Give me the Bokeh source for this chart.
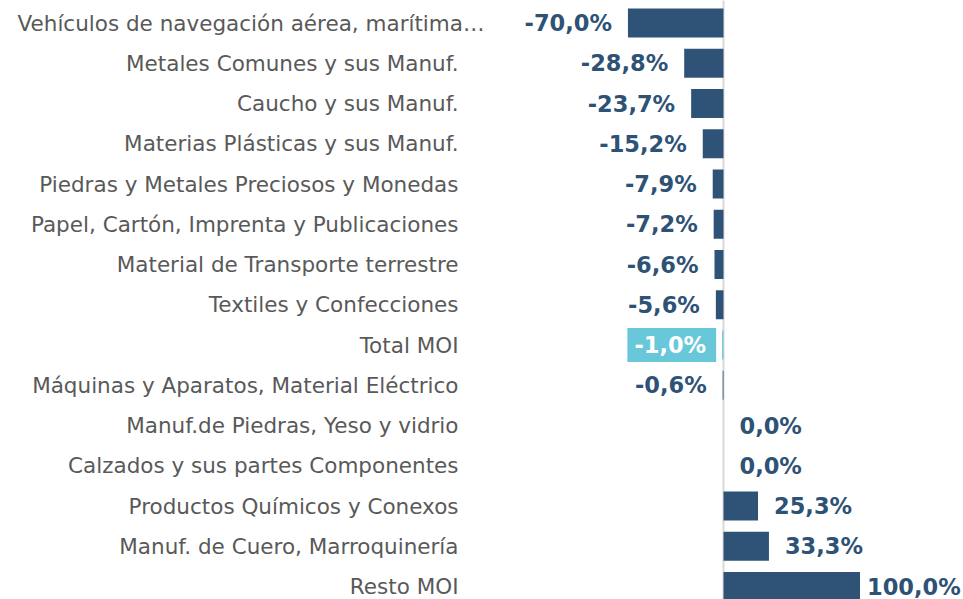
import numpy as np
from bokeh.plotting import figure
from bokeh.models import ColumnDataSource, Range1d, Span
from bokeh.core.properties import value
from bokeh.embed import file_html
from bokeh.resources import INLINE

categories = [
    "Vehículos de navegación aérea, marítima…",
    "Metales Comunes y sus Manuf.",
    "Caucho y sus Manuf.",
    "Materias Plásticas y sus Manuf.",
    "Piedras y Metales Preciosos y Monedas",
    "Papel, Cartón, Imprenta y Publicaciones",
    "Material de Transporte terrestre",
    "Textiles y Confecciones",
    "Total MOI",
    "Máquinas y Aparatos, Material Eléctrico",
    "Manuf.de Piedras, Yeso y vidrio",
    "Calzados y sus partes Componentes",
    "Productos Químicos y Conexos",
    "Manuf. de Cuero, Marroquinería",
    "Resto MOI",
]
values = [-70.0, -28.8, -23.7, -15.2, -7.9, -7.2, -6.6, -5.6, -1.0, -0.6, 0.0, 0.0, 25.3, 33.3, 100.0]
highlight = "Total MOI"

BAR = "#2E5377"
HL = "#68C8DA"
LABEL_TXT = "#2E5276"
CAT_TXT = "#595959"

W, H = 963, 599
K = 1.365           # px per percentage point
ZERO_PX = 723       # zero position inside the frame
ROW_PX = 40.25
TOP_PX = 22.5

n = len(categories)
vals = np.array(values)
ys = np.arange(n)
fmt = [("%.1f%%" % v).replace(".", ",") for v in vals]
is_hl = np.array([c == highlight for c in categories])

x_start = -ZERO_PX / K
x_end = (W - ZERO_PX) / K
y_top = -TOP_PX / ROW_PX
y_bottom = y_top + H / ROW_PX

p = figure(width=W, height=H, output_backend="svg", toolbar_location=None,
           x_range=Range1d(x_start, x_end), y_range=Range1d(y_bottom, y_top),
           min_border=0, outline_line_color=None)
p.axis.visible = False
p.grid.visible = False
p.background_fill_color = "white"
p.border_fill_color = "white"

p.add_layout(Span(location=0, dimension="height", line_color="#D9D9D9", line_width=2, level="underlay"))

colors = [HL if h else BAR for h in is_hl]
bars = ColumnDataSource(dict(y=ys, right=vals, color=colors))
p.hbar(y="y", left=0, right="right", height=0.72, fill_color="color", line_color=None, source=bars)

# category labels
cat_x = np.full(n, (458 - ZERO_PX) / K)
cat_align = ["right"] * n
cat_x[0] = (17 - ZERO_PX) / K
cat_align[0] = "left"
cats = ColumnDataSource(dict(x=cat_x, y=ys, t=categories, a=cat_align))
p.text(x="x", y="y", text="t", text_align="a", text_baseline="middle",
       text_font=value("DejaVu Sans"), text_font_size="21.5px", text_color=CAT_TXT, source=cats)

# value labels
offs = np.where(vals < 0, -16, 16).astype(float)
offs[vals == vals.max()] = 7
aligns = np.where(vals < 0, "right", "left")
normal = ~is_hl
src_n = ColumnDataSource(dict(x=vals[normal], y=ys[normal], t=np.array(fmt)[normal],
                              o=offs[normal], a=aligns[normal]))
p.text(x="x", y="y", text="t", x_offset="o", text_align="a", text_baseline="middle",
       text_font=value("DejaVu Sans"), text_font_style="bold", text_font_size="22.5px",
       text_color=LABEL_TXT, source=src_n)
src_h = ColumnDataSource(dict(x=vals[is_hl], y=ys[is_hl], t=np.array(fmt)[is_hl],
                              o=offs[is_hl] + 10, a=aligns[is_hl]))
p.text(x="x", y="y", text="t", x_offset="o", text_align="a", text_baseline="middle",
       text_font=value("DejaVu Sans"), text_font_style="bold", text_font_size="22.5px",
       text_color="white", background_fill_color=HL,
       padding=dict(left=7, right=10, top=4, bottom=4), source=src_h)

open("out.html", "w").write(file_html(p, INLINE))
